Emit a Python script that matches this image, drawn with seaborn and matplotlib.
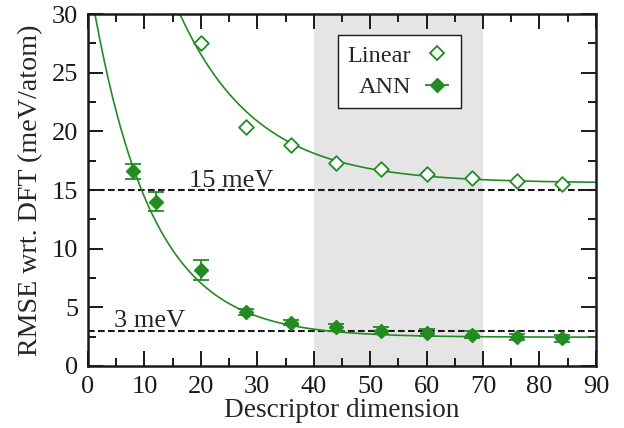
import numpy as np
import pandas as pd
import matplotlib
matplotlib.use("Agg")
import matplotlib.pyplot as plt
import seaborn as sns
from matplotlib.lines import Line2D

# data
linear_dim = [20, 28, 36, 44, 52, 60, 68, 76, 84]
linear_rmse = [27.5, 20.4, 18.8, 17.3, 16.8, 16.4, 16.05, 15.75, 15.55]

ann_dim = [8, 12, 20, 28, 36, 44, 52, 60, 68, 76, 84]
ann_rmse = [16.6, 14.0, 8.2, 4.6, 3.7, 3.3, 3.0, 2.85, 2.65, 2.45, 2.35]
ann_err = [0.65, 0.8, 0.85, 0.25, 0.25, 0.3, 0.3, 0.3, 0.3, 0.25, 0.3]

# exponential fits a*exp(-x/b)+c, parameters estimated from the drawn curves
fit_linear = (47.5, 13.65, 15.6)
fit_ann = (31.0, 10.5, 2.45)

thresholds = [15, 3]
threshold_labels = ["15 meV", "3 meV"]
threshold_label_x = [25.3, 10.9]
window = (40, 70)

green = "#228b22"
fs = 19

sns.set_theme(style="ticks")
plt.rcParams["font.family"] = ["Liberation Serif", "DejaVu Serif"]
plt.rcParams["font.size"] = fs

fig = plt.figure(figsize=(6.24, 4.28), dpi=100)
ax = fig.add_axes([0.141, 0.145, 0.814, 0.822])

ax.axvspan(*window, color="#e5e5e5", lw=0, zorder=0)

for yv, lab, lx in zip(thresholds, threshold_labels, threshold_label_x):
    ax.axhline(yv, color="k", ls=(0, (3.2, 1.6)), lw=1.5, zorder=1)
    ax.text(lx, yv + 0.3, lab, ha="center", va="baseline", fontsize=fs)

xs = np.linspace(0, 90, 500)
curves = pd.DataFrame({
    "x": xs,
    "linear": fit_linear[0] * np.exp(-xs / fit_linear[1]) + fit_linear[2],
    "ann": fit_ann[0] * np.exp(-xs / fit_ann[1]) + fit_ann[2],
})
sns.lineplot(data=curves, x="x", y="linear", color=green, lw=1.2, ax=ax, zorder=2)
sns.lineplot(data=curves, x="x", y="ann", color=green, lw=1.2, ax=ax, zorder=2)

sns.scatterplot(x=linear_dim, y=linear_rmse, marker="D", s=56, facecolor="white",
                edgecolor=green, linewidth=1.3, ax=ax, zorder=3)

ax.errorbar(ann_dim, ann_rmse, yerr=ann_err, fmt="D", ms=7.5, color=green,
            ecolor=green, elinewidth=1.3, capsize=5.5, capthick=1.3, zorder=3)

# legend handles
h_lin = Line2D([], [], marker="D", ls="none", ms=7.2, mfc="white", mec=green, mew=1.3)
h_ann = ax.errorbar([], [], xerr=[], fmt="D", ms=7.5, color=green, ecolor=green,
                    elinewidth=1.3, capsize=4.5, capthick=1.3)
leg = ax.legend([h_lin, h_ann], ["Linear", "ANN"], loc="upper left",
                bbox_to_anchor=(0.492, 0.94), borderaxespad=0, markerfirst=False,
                fancybox=False, edgecolor="k", framealpha=1, fontsize=17.5,
                handlelength=1.15, handletextpad=0.5, borderpad=0.4, labelspacing=0.38)
leg.get_frame().set_linewidth(1.0)

ax.set_xlim(0, 90)
ax.set_ylim(0, 30)
ax.set_xticks(range(0, 91, 10))
ax.set_xticks(range(5, 90, 10), minor=True)
ax.set_yticks(range(0, 31, 5))
ax.set_yticks(np.arange(2.5, 30, 5), minor=True)
ax.tick_params(which="both", direction="in", top=True, right=True, width=1.4,
               colors="k", labelsize=fs)
ax.tick_params(which="major", length=11, pad=7)
ax.tick_params(which="minor", length=5.5)
for sp in ax.spines.values():
    sp.set_linewidth(1.8)
    sp.set_color("k")

ax.set_xlabel("Descriptor dimension", fontsize=19.6, labelpad=0)
ax.set_ylabel("RMSE wrt. DFT (meV/atom)", fontsize=20.2, labelpad=6)

fig.savefig("out.png", dpi=100)
